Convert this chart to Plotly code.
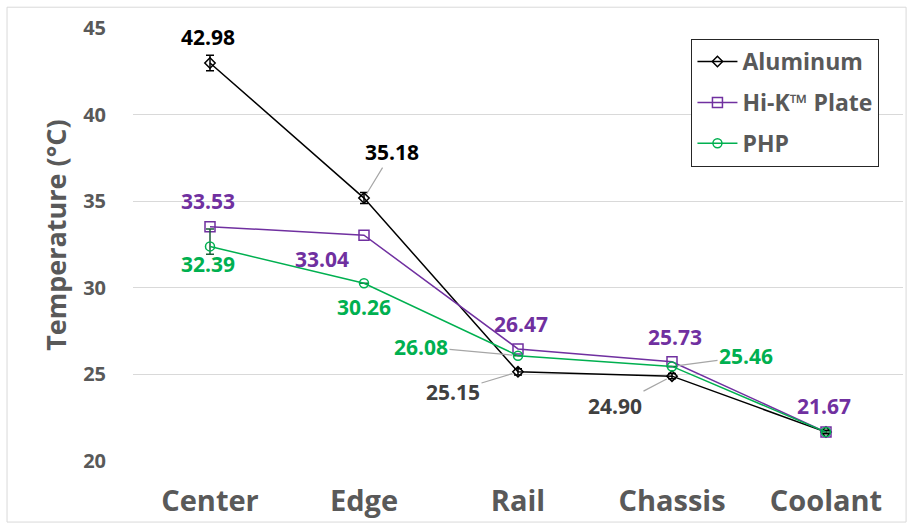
import plotly.graph_objects as go

# Measurement locations and mean temperatures (°C)
locations = ["Center", "Edge", "Rail", "Chassis", "Coolant"]
aluminum = [42.98, 35.18, 25.15, 24.90, 21.67]
hik_plate = [33.53, 33.04, 26.47, 25.73, 21.67]
php = [32.39, 30.26, 26.08, 25.46, 21.67]

# Error bar half-widths (°C)
aluminum_err = [0.45, 0.32, 0.18, 0.15, 0.1]
php_err_plus = [1.0, 0.0, 0.0, 0.0, 0.0]
php_err_minus = [0.45, 0.0, 0.0, 0.0, 0.0]

y_ticks = [20, 25, 30, 35, 40, 45]

FONT = "Open Sans"
BLACK = "#000000"
PURPLE = "#7030A0"
GREEN = "#00B050"
GRAY_TEXT = "#595959"
LEADER = "#A6A6A6"

fig = go.Figure()

fig.add_trace(go.Scatter(
    x=locations, y=aluminum, name="Aluminum", mode="lines+markers",
    line=dict(color=BLACK, width=1.5),
    marker=dict(symbol="diamond-open", size=8, color=BLACK, line=dict(width=1.5)),
    error_y=dict(type="data", array=aluminum_err, color=BLACK, thickness=1.5, width=4),
    legendgroup="a",
))
fig.add_trace(go.Scatter(
    x=locations, y=hik_plate, name="Hi-K™ Plate", mode="lines+markers",
    line=dict(color=PURPLE, width=1.5),
    marker=dict(symbol="square-open", size=10, color=PURPLE, line=dict(width=1.5)),
    legendgroup="b",
))
fig.add_trace(go.Scatter(
    x=locations, y=php, name="PHP", mode="lines+markers",
    line=dict(color=GREEN, width=1.5),
    marker=dict(symbol="circle-open", size=9, color=GREEN, line=dict(width=1.5)),
    error_y=dict(type="data", symmetric=False, array=php_err_plus,
                 arrayminus=php_err_minus, color="#1E5E3A", thickness=1.5, width=4),
    legendgroup="c",
))

# Data labels: (series values, index, color, x offset px, y offset px, leader line)
label_specs = [
    (aluminum, 0, BLACK, -2, -26, False),
    (aluminum, 1, BLACK, 28, -46, True),
    (aluminum, 2, "#404040", -65, 20, True),
    (aluminum, 3, "#404040", -57, 30, True),
    (hik_plate, 0, PURPLE, -2, -26, False),
    (hik_plate, 1, PURPLE, -42, 24, False),
    (hik_plate, 2, PURPLE, 3, -25, False),
    (hik_plate, 3, PURPLE, 3, -25, False),
    (hik_plate, 4, PURPLE, -2, -26, False),
    (php, 0, GREEN, -2, 18, False),
    (php, 1, GREEN, 0, 24, False),
    (php, 2, GREEN, -97, -9, True),
    (php, 3, GREEN, 74, -10, True),
]
for series, i, color, dx, dy, leader in label_specs:
    fig.add_annotation(
        x=locations[i], y=series[i], xref="x", yref="y",
        text=f"<b>{series[i]:.2f}</b>",
        font=dict(family=FONT, size=21, color=color),
        showarrow=True, ax=dx, ay=dy, axref="pixel", ayref="pixel",
        arrowhead=0, arrowwidth=1.2, standoff=6,
        arrowcolor=LEADER if leader else "rgba(0,0,0,0)",
    )

# Y-axis title
fig.add_annotation(
    x=-0.1, y=0.52, xref="paper", yref="paper", xanchor="center", yanchor="middle",
    text="<b>Temperature (°C)</b>", textangle=-90, showarrow=False,
    font=dict(family=FONT, size=27, color=GRAY_TEXT),
)

# Outer frame of the chart area
fig.add_shape(
    type="rect", xref="paper", yref="paper",
    x0=-0.1636, x1=1.004, y0=-0.141, y1=1.048,
    line=dict(color="#D9D9D9", width=1), layer="below",
)

fig.update_layout(
    width=910, height=529,
    margin=dict(l=133, r=7, t=28, b=68),
    paper_bgcolor="white", plot_bgcolor="white",
    font=dict(family=FONT, color=GRAY_TEXT),
    showlegend=True,
    legend=dict(
        x=0.725, y=0.975, xanchor="left", yanchor="top",
        bgcolor="white", bordercolor="#262626", borderwidth=1.2,
        font=dict(family=FONT, size=23, color=GRAY_TEXT, weight="bold"),
        itemwidth=40, tracegroupgap=8,
    ),
    xaxis=dict(
        type="category", range=[-0.5, 4.5], showgrid=False, zeroline=False,
        showline=False, ticks="outside", ticklen=14, tickcolor="rgba(0,0,0,0)",
        tickfont=dict(family=FONT, size=29, color=GRAY_TEXT, weight="bold"),
    ),
    yaxis=dict(
        range=[20, 45], tickvals=y_ticks, showgrid=True, gridcolor="#D9D9D9",
        gridwidth=1, zeroline=False, showline=False, ticks="outside",
        ticklen=22, tickcolor="rgba(0,0,0,0)",
        tickfont=dict(family=FONT, size=20, color=GRAY_TEXT, weight="bold"),
    ),
)

fig.write_html("out.html")
